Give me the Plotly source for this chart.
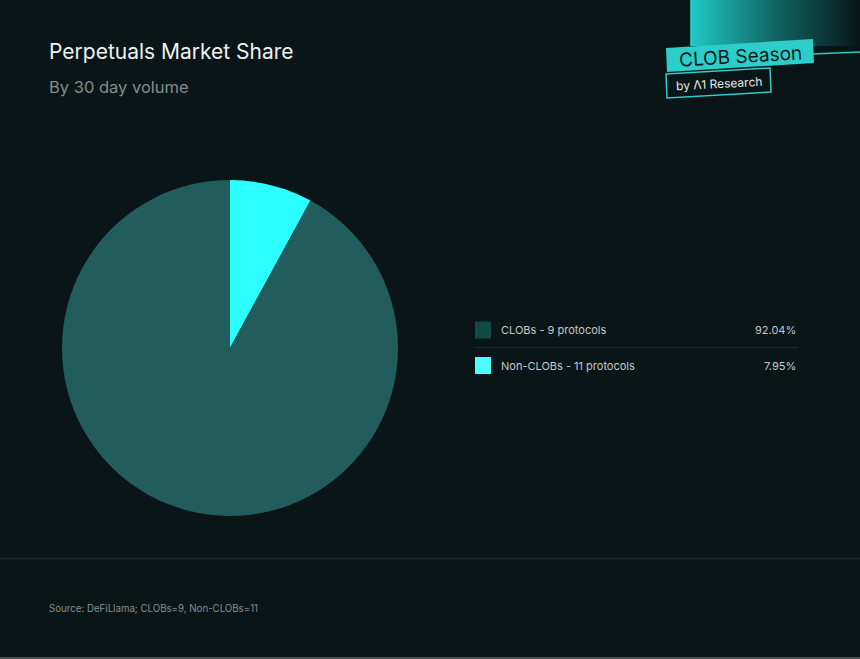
import plotly.graph_objects as go

# ---- data ----
labels = ["CLOBs", "Non-CLOBs"]
protocol_counts = [9, 11]
shares = [92.04, 7.95]

title = "Perpetuals Market Share"
subtitle = "By 30 day volume"
source = "Source: DeFiLlama; CLOBs=9, Non-CLOBs=11"

# ---- styles ----
W, H = 860, 659
BG = "#0a1517"
pie_colors = ["#225c5c", "#2bffff"]
swatch_colors = ["#134a45", "#4dfdff"]
FONT = "Inter"

fig = go.Figure()

# pie geometry in pixels -> paper; Non-CLOBs slice drawn first, clockwise from 12 o'clock
cx, cy, r = 230, 348, 168
fig.add_trace(go.Pie(
    labels=labels[::-1], values=shares[::-1], sort=False, direction="clockwise",
    rotation=0, textinfo="none", showlegend=False,
    marker=dict(colors=pie_colors[::-1], line=dict(width=0)),
    domain=dict(x=[(cx - r) / W, (cx + r) / W], y=[(H - cy - r) / H, (H - cy + r) / H]),
    hovertemplate="%{label}: %{value}%<extra></extra>",
))

# gradient block at top right (logo)
fig.add_trace(go.Scatter(
    x=[691, 860, 860, 691, 691], y=[0, 0, 46, 46, 0],
    mode="lines", line=dict(width=0), fill="toself",
    fillgradient=dict(type="horizontal", colorscale=[[0, "#20c9c6"], [0.5, "#0f6664"], [1, "#0a1517"]]),
    hoverinfo="skip", showlegend=False, xaxis="x", yaxis="y",
))

fig.update_layout(
    width=W, height=H, margin=dict(l=0, r=0, t=0, b=0),
    paper_bgcolor=BG, plot_bgcolor="rgba(0,0,0,0)",
    xaxis=dict(range=[0, W], visible=False, domain=[0, 1], fixedrange=True),
    yaxis=dict(range=[H, 0], visible=False, domain=[0, 1], fixedrange=True),
    font=dict(family=FONT),
)

shapes = []
annotations = []

# title / subtitle
annotations.append(dict(x=47, y=51, xref="x", yref="y", text=title, showarrow=False,
                        xanchor="left", yanchor="middle", font=dict(size=21, color="#eef1f1", family=FONT)))
annotations.append(dict(x=47, y=87, xref="x", yref="y", text=subtitle, showarrow=False,
                        xanchor="left", yanchor="middle", font=dict(size=16.5, color="#848d8e", family=FONT)))

# logo
shapes.append(dict(type="line", xref="x", yref="y", x0=691, y0=0, x1=691, y1=46,
                   line=dict(color="#2fd6d2", width=1.5)))
shapes.append(dict(type="line", xref="x", yref="y", x0=812, y0=54, x1=860, y1=52,
                   line=dict(color="#2cc9c6", width=1.5)))
shapes.append(dict(type="path", xref="x", yref="y",
                   path="M 666,48 L 813,39 L 814,63 L 667,72 Z",
                   fillcolor="#2ccdca", line=dict(width=0)))
shapes.append(dict(type="path", xref="x", yref="y",
                   path="M 666,74 L 770,68 L 771,92 L 667,98 Z",
                   fillcolor=BG, line=dict(color="#2ccdca", width=1.5)))
annotations.append(dict(x=740, y=56, xref="x", yref="y", text="CLOB Season", showarrow=False,
                        textangle=-3.5, xanchor="center", yanchor="middle",
                        font=dict(size=19, color="#0a1517", family=FONT)))
annotations.append(dict(x=719, y=83, xref="x", yref="y", text="by Λ1 Research", showarrow=False,
                        textangle=-3, xanchor="center", yanchor="middle",
                        font=dict(size=12, color="#e8eded", family=FONT)))

# custom legend
row_y = [330, 365.5]
for i, (lab, cnt, val) in enumerate(zip(labels, protocol_counts, shares)):
    y = row_y[i]
    shapes.append(dict(type="rect", xref="x", yref="y", x0=475, x1=491, y0=y - 8.5, y1=y + 8.5,
                       fillcolor=swatch_colors[i], line=dict(width=0)))
    annotations.append(dict(x=499, y=y, xref="x", yref="y", text=f"{lab} - {cnt} protocols",
                            showarrow=False, xanchor="left", yanchor="middle",
                            font=dict(size=11, color="#c3c9c9", family=FONT)))
    annotations.append(dict(x=798, y=y, xref="x", yref="y", text=f"{val:.2f}%",
                            showarrow=False, xanchor="right", yanchor="middle",
                            font=dict(size=11, color="#c3c9c9", family=FONT)))
shapes.append(dict(type="line", xref="x", yref="y", x0=475, x1=798, y0=347.5, y1=347.5,
                   line=dict(color="#1b2b2d", width=1)))

# footer
shapes.append(dict(type="line", xref="x", yref="y", x0=0, x1=W, y0=558.5, y1=558.5,
                   line=dict(color="#132a2b", width=1.5)))
shapes.append(dict(type="line", xref="x", yref="y", x0=0, x1=W, y0=658, y1=658,
                   line=dict(color="#4b5052", width=2)))
annotations.append(dict(x=47, y=608, xref="x", yref="y", text=source, showarrow=False,
                        xanchor="left", yanchor="middle", font=dict(size=9.7, color="#868e8f", family=FONT)))

fig.update_layout(shapes=shapes, annotations=annotations)
fig.write_html(
    "out.html",
    config={"displayModeBar": False},
    post_script="document.body.style.margin='0';document.body.style.background='#0a1517';document.body.style.overflow='hidden';",
)
